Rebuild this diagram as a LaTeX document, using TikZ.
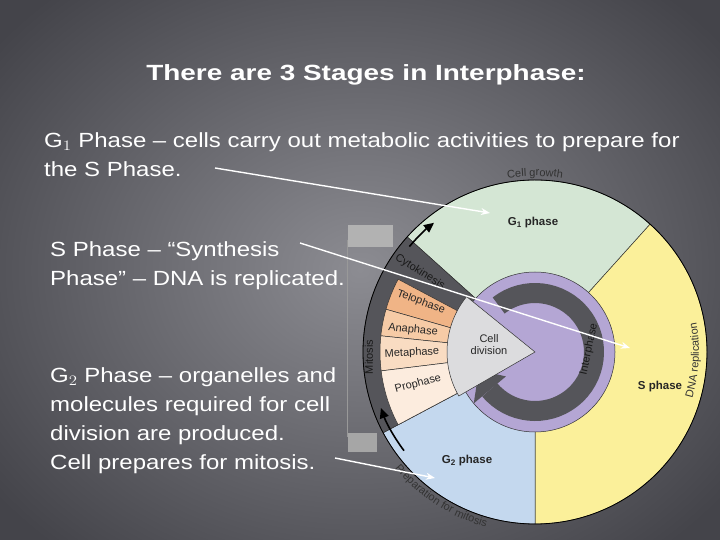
\documentclass[tikz,border=0pt]{standalone}
\usepackage{fontspec}
\setmainfont{Liberation Sans}
\usetikzlibrary{arrows.meta,decorations.text,calc}
\definecolor{bgin}{RGB}{140,140,146}
\definecolor{bgout}{RGB}{68,68,74}
\definecolor{gone}{RGB}{212,230,212}
\definecolor{sph}{RGB}{251,240,154}
\definecolor{gtwo}{RGB}{196,216,238}
\definecolor{purp}{RGB}{180,166,212}
\definecolor{dgray}{RGB}{85,85,90}
\definecolor{cdiv}{RGB}{220,220,222}
\definecolor{telo}{RGB}{240,180,134}
\definecolor{ana}{RGB}{246,203,166}
\definecolor{meta}{RGB}{249,220,194}
\definecolor{pro}{RGB}{252,236,222}
\tikzset{
 bodytext/.style={text=white,font=\fontsize{20.5}{29}\selectfont,inner sep=0pt,anchor=north west},
 lab/.style={font=\fontsize{11}{12}\selectfont,text=black!85,inner sep=0pt},
 blab/.style={font=\bfseries\fontsize{11.5}{12}\selectfont,text=black!85,inner sep=0pt},
 wline/.style={draw=white,line width=1.4pt,-{Stealth[length=9pt,width=7pt]}},
 seg/.style={draw=black!80,line width=0.5pt}
}
\newcommand{\bodyblock}[1]{\scalebox{1.17}[1]{\begin{tabular}{@{}l@{}}#1\end{tabular}}}
\begin{document}
\begin{tikzpicture}[x=1pt,y=1pt]
\useasboundingbox (0,0) rectangle (720,540);
\shade[inner color=bgin,outer color=bgout] (-100,-100) rectangle (820,640);
% left bracket
\fill[black!30] (348,293) rectangle (393,315);
\draw[black!40,line width=1pt] (347,300) -- (347,103);
\fill[black!35] (348,88) rectangle (377,107);
\coordinate (C) at (535,188);
% sectors
\fill[gone,seg] (C) -- ++(48:172) arc (48:138:172) -- cycle;
\fill[sph,seg] (C) -- ++(-90:172) arc (-90:48:172) -- cycle;
\fill[gtwo,seg] (C) -- ++(208:172) arc (208:270:172) -- cycle;
\fill[dgray,seg] (C) -- ++(138:172) arc (138:208:172) -- cycle;
% mitosis segments
\fill[telo,seg] (C) ++(152:85) arc (152:164:85) -- ++(164:70) arc (164:152:155) -- cycle;
\fill[ana,seg] (C) ++(164:85) arc (164:174:85) -- ++(174:70) arc (174:164:155) -- cycle;
\fill[meta,seg] (C) ++(174:85) arc (174:187:85) -- ++(187:70) arc (187:174:155) -- cycle;
\fill[pro,seg] (C) ++(187:85) arc (187:208:85) -- ++(208:70) arc (208:187:155) -- cycle;
\draw[black,line width=0.8pt] (C) circle (172);
% purple disk
\fill[purp,seg] (C) circle (80);
\draw[dgray,line width=20pt] (C) ++(128:59) arc (128:-140:59);
\fill[dgray] ($(C)+(-140:38)$) -- ($(C)+(-140:80)$) -- ($(C)+(-162:59)$) -- cycle;
\fill[cdiv,seg] (C) -- ++(141:88) arc (141:210:88) -- cycle;
% black arrows in band
\draw[black,line width=1.6pt,-{Triangle[length=10pt,width=9pt]}] (C) ++(140:164) arc (140:128:164);
\draw[black,line width=1.6pt,-{Triangle[length=10pt,width=9pt]}] (C) ++(217:164) arc (217:200:164);
% labels
\node[blab] (g1) at (533,317) {G$_\mathbf{1}$ phase};
\node[blab] (s) at (660,153) {S phase};
\node[blab] (g2) at (467,79) {G$_\mathbf{2}$ phase};
\node[lab,align=center] (cd) at (489,195) {Cell\\division};
\node[lab,rotate=-20] (te) at (421,238) {Telophase};
\node[lab,rotate=-6] (an) at (413,210) {Anaphase};
\node[lab,rotate=3] (me) at (412,187) {Metaphase};
\node[lab,rotate=15] (pr) at (418,156) {Prophase};
\node[lab,rotate=-32,text=black!90] (cy) at (420,268) {Cytokinesis};
\node[lab,rotate=78,text=black!90] (ip) at (589,191) {Interphase};
\node[lab,rotate=90,text=black!90] (mi) at (369,183) {Mitosis};
\path[decorate,decoration={text along path,text={|\fontsize{11}{12}\selectfont\color{black!80}|Cell growth},text align=center}] (C) ++(103:176) arc (103:77:176);
\path[decorate,decoration={text along path,text={|\fontsize{11}{12}\selectfont\color{black!80}|DNA replication},text align=center}] (C) ++(-30:164) arc (-30:24:164);
\path[decorate,decoration={text along path,text={|\fontsize{11}{12}\selectfont\color{black!80}|Preparation for mitosis},text align=center}] (C) ++(206:182) arc (206:268:182);
% text
\node[text=white,font=\bfseries\fontsize{22}{24}\selectfont] (title) at (366,465) {\scalebox{1.27}[1]{There are 3 Stages in Interphase:}};
\node[bodytext] (t1) at (44,413) {\bodyblock{G$_1$ Phase – cells carry out metabolic activities to prepare for\\the S Phase.}};
\node[bodytext] (t2) at (50,304) {\bodyblock{S Phase – “Synthesis\\Phase” – DNA is replicated.}};
\node[bodytext] (t3) at (50,178) {\bodyblock{G$_2$ Phase – organelles and\\molecules required for cell\\division are produced.\\Cell prepares for mitosis.}};
\coordinate (a1s) at (215,372); \coordinate (a1e) at (490,327);
\coordinate (a2s) at (300,297); \coordinate (a2e) at (630,192);
\coordinate (a3s) at (335,82); \coordinate (a3e) at (435,62);
\draw[wline] (a1s) -- (a1e);
\draw[wline] (a2s) -- (a2e);
\draw[wline] (a3s) -- (a3e);
\end{tikzpicture}
\end{document}
